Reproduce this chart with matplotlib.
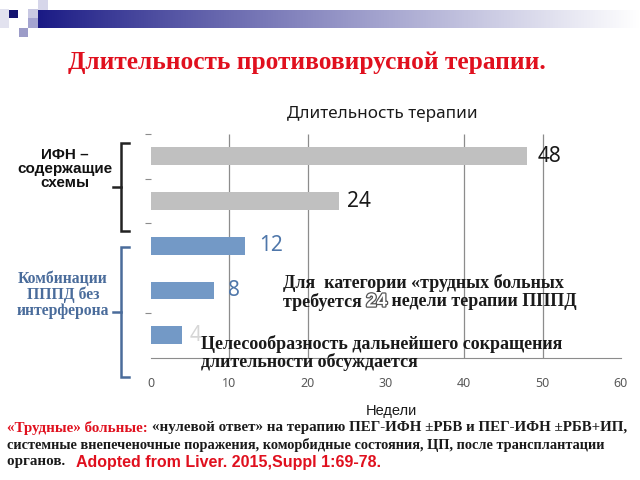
"""Длительность противовирусной терапии — horizontal bar slide."""

import matplotlib

matplotlib.use("Agg")
import matplotlib.pyplot as plt
import matplotlib.patheffects as pe
import numpy as np
from matplotlib.patches import Rectangle


weeks = [48, 24, 12, 8, 4]
bar_colors = ["#c0c0c0", "#c0c0c0", "#7399c6", "#7399c6", "#7399c6"]
label_colors = ["#1a1a1a", "#1a1a1a", "#4f77aa", "#4f77aa", "#d6d6d6"]
x_ticks = [0, 10, 20, 30, 40, 50, 60]
grid_at = [10, 20, 40, 50]

W, H = 640, 480
SERIF = ["Liberation Serif", "DejaVu Serif"]
ARIAL = ["Liberation Sans", "DejaVu Sans"]
CALIBRI = ["Noto Sans", "DejaVu Sans"]


def fx(x):
    return x / W


def fy(y):
    return 1 - y / H


fig = plt.figure(figsize=(6.4, 4.8), dpi=100)
fig.patch.set_facecolor("white")

# header band with gradient and small squares
deco = fig.add_axes([0, 0, 1, 1], zorder=-5)
deco.set_xlim(0, W)
deco.set_ylim(H, 0)
deco.axis("off")
grad = np.linspace(0, 1, 256)
navy = np.array([0.10, 0.10, 0.52])
white = np.array([1.0, 1.0, 1.0])
t = np.clip(grad ** 0.9, 0, 1)[None, :, None]
img = navy * (1 - t) + white * t
deco.imshow(img, extent=[38, 640, 28, 10], aspect="auto")
for (x0, y0, w, h, c) in [
    (0, 9, 9, 19, "#e2e2ef"),
    (9, 10, 9, 8, "#141470"),
    (28, 9, 10, 9, "#c8c8e2"),
    (38, 0, 10, 10, "#d6d6ea"),
    (28, 18, 10, 10, "#a4a4d0"),
    (19, 28, 9, 9, "#9c9cc8"),
]:
    deco.add_patch(Rectangle((x0, y0), w, h, color=c, lw=0))

fig.text(fx(68), fy(62), "Длительность противовирусной терапии.",
         family=SERIF, weight="bold", color="#e0101e", fontsize=18.3,
         ha="left", va="center")

# chart
ax = fig.add_axes([fx(151), fy(357.5), fx(621 - 151), (357.5 - 134) / H])
pos = np.arange(len(weeks))
ax.barh(pos, weeks, height=0.4, color=bar_colors, zorder=3)
ax.set_ylim(len(weeks) - 0.5, -0.5)
ax.set_xlim(0, 60)
ax.vlines(grid_at, -0.5, len(weeks) - 0.5, color="#8c8c8c", lw=0.9, zorder=1)
label_offsets = [8, 6, 10, 10, 5]
for p, v, c, off in zip(pos, weeks, label_colors, label_offsets):
    ax.annotate(str(v), (v, p), xytext=(off, 0), textcoords="offset points",
                va="center", ha="left", fontsize=15, color=c,
                family=CALIBRI, weight="bold", zorder=4)

for s in ["top", "right", "left"]:
    ax.spines[s].set_visible(False)
ax.spines["bottom"].set_color("#8c8c8c")
ax.set_xticks(x_ticks)
ax.set_xticklabels([str(v) for v in x_ticks], family=CALIBRI, fontsize=9,
                   color="#595959")
ax.tick_params(axis="x", length=0, pad=14)
ax.set_yticks([-0.5, 0.5, 1.5, 3.5])
ax.set_yticklabels([])
ax.tick_params(axis="y", length=4, color="#8c8c8c", width=0.8)
ax.set_facecolor("none")

fig.text(fx(382), fy(114), "Длительность терапии", family=CALIBRI,
         fontsize=12.3, ha="center", va="center", color="#1a1a1a")
fig.text(fx(391), fy(411), "Недели", family=ARIAL, fontsize=10.5,
         ha="center", va="center", color="#1a1a1a")

# left group labels and brackets
fig.text(fx(65), fy(169), "ИФН –\nсодержащие\nсхемы", family=ARIAL,
         weight="bold", fontsize=11, ha="center", va="center",
         color="#111111", linespacing=1.0)
fig.text(fx(63), fy(295), "Комбинации\nПППД без\nинтерферона", family=SERIF,
         weight="bold", fontsize=11.3, ha="center", va="center",
         color="#4a6c9b", linespacing=1.0)


def bracket(top, bottom, mid, color):
    deco.plot([129, 121, 121, 129], [top, top, bottom, bottom], color=color,
              lw=1.8, solid_joinstyle="miter")
    deco.plot([113, 121], [mid, mid], color=color, lw=1.8)


bracket(143, 231, 187, "#222222")
bracket(247, 377, 312, "#4a6c9b")

# annotation text inside the chart
renderer = fig.canvas.get_renderer()


def chain(x, y, pieces):
    """Place text pieces one after another on a line (pixel coords)."""
    for txt, kw in pieces:
        t = fig.text(fx(x), fy(y), txt, ha="left", va="center", **kw)
        bb = t.get_window_extent(renderer)
        x += bb.width


bold_serif = dict(family=SERIF, weight="bold", fontsize=13, color="#1a1a1a")
chain(283, 283, [("Для  категории «трудных больных", bold_serif)])
chain(283, 302, [
    ("требуется ", bold_serif),
    ("24", dict(family=ARIAL, weight="bold", fontsize=13.5, color="white",
                path_effects=[pe.withStroke(linewidth=1.8,
                                            foreground="#555555")])),
    (" недели терапии ПППД", bold_serif),
])
chain(201, 344, [("Целесообразность дальнейшего сокращения", bold_serif)])
chain(201, 362, [("длительности обсуждается", bold_serif)])

# footer
foot = dict(family=SERIF, weight="bold", fontsize=10.8, color="#1a1a1a")
foot_red = dict(foot, color="#e0101e")
chain(7, 428, [
    ("«Трудные» больные: ", foot_red),
    ("«нулевой ответ» на терапию ПЕГ-ИФН ±РБВ и ПЕГ-ИФН ±РБВ+ИП,", foot),
])
chain(7, 445, [("системные внепеченочные поражения, коморбидные состояния, "
                "ЦП, после трансплантации", dict(foot, fontsize=10.4))])
chain(7, 462, [
    ("органов.   ", foot),
    ("Adopted from Liver. 2015,Suppl 1:69-78.",
     dict(family=ARIAL, weight="bold", fontsize=11.5, color="#e0101e")),
])

fig.savefig("out.png", dpi=100)
